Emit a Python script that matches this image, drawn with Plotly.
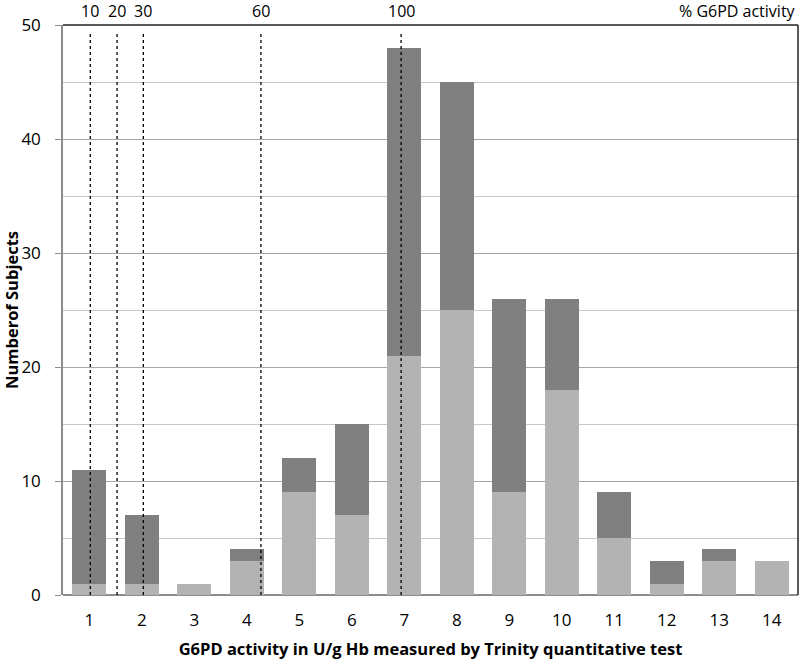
import plotly.graph_objects as go

categories = [1, 2, 3, 4, 5, 6, 7, 8, 9, 10, 11, 12, 13, 14]
light_values = [1, 1, 1, 3, 9, 7, 21, 25, 9, 18, 5, 1, 3, 3]
dark_values = [10, 6, 0, 1, 3, 8, 27, 20, 17, 8, 4, 2, 1, 0]
pct_labels = ["10", "20", "30", "60", "100"]
pct_positions = [1.02, 1.53, 2.03, 4.27, 6.94]
y_ticks = [0, 10, 20, 30, 40, 50]

fig = go.Figure()
fig.add_trace(go.Bar(x=categories, y=light_values, marker_color="#b3b3b3",
                     marker_line_width=0, width=0.65, name="light"))
fig.add_trace(go.Bar(x=categories, y=dark_values, marker_color="#808080",
                     marker_line_width=0, width=0.65, name="dark"))

for p, lab in zip(pct_positions, pct_labels):
    fig.add_shape(type="line", xref="x", yref="paper", x0=p, x1=p, y0=0, y1=0.985,
                  line=dict(color="black", width=1.3, dash="dot"), layer="above")
    fig.add_annotation(x=p, y=1.0, xref="x", yref="paper", text=lab, showarrow=False,
                       yanchor="bottom", yshift=1, font=dict(size=16, color="black"))

fig.add_annotation(x=1.0, y=1.0, xref="paper", yref="paper", text="% G6PD activity",
                   showarrow=False, xanchor="right", yanchor="bottom", yshift=1,
                   font=dict(size=16, color="black"))

# frame top and right
fig.add_shape(type="line", xref="paper", yref="paper", x0=0, x1=1, y0=1, y1=1,
              line=dict(color="#222222", width=1.5))
fig.add_shape(type="line", xref="paper", yref="paper", x0=1, x1=1, y0=0, y1=1,
              line=dict(color="#222222", width=1.5))

fig.update_layout(
    barmode="stack",
    width=800, height=660,
    margin=dict(l=63, r=2, t=25, b=65),
    plot_bgcolor="white", paper_bgcolor="white",
    showlegend=False,
    font=dict(family="Open Sans, Lato, sans-serif", color="black"),
    xaxis=dict(
        range=[0.5, 14.5], tickvals=categories, ticktext=[str(c) for c in categories],
        tickfont=dict(size=17), showgrid=False, showline=False, ticks="",
        zeroline=False, ticklabelstandoff=13, automargin=False,
        title=dict(text="<b>G6PD activity in U/g Hb measured by Trinity quantitative test</b>",
                   font=dict(size=16.5), standoff=18),
    ),
    yaxis=dict(
        range=[0, 50], tickvals=y_ticks, tickfont=dict(size=17),
        showgrid=True, gridcolor="#a6a6a6", gridwidth=1,
        minor=dict(dtick=5, showgrid=True, gridcolor="#c8c8c8", gridwidth=1),
        ticks="outside", ticklen=6, tickcolor="#8c8c8c", ticklabelstandoff=11,
        showline=True, linecolor="#8c8c8c", linewidth=1.5,
        zeroline=True, zerolinecolor="#8c8c8c", zerolinewidth=1.5, automargin=False,
        title=dict(text="<b>Numberof Subjects</b>", font=dict(size=16.5), standoff=3),
    ),
)

fig.write_html("out.html", config={"displayModeBar": False},
               post_script="document.body.style.margin='0';")
